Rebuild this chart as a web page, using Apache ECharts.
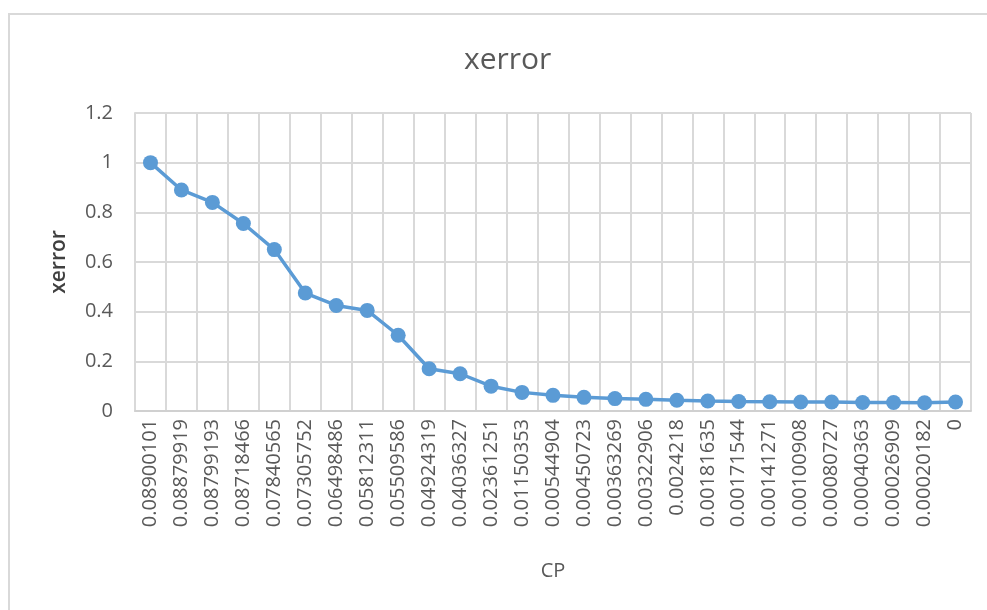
<!DOCTYPE html>
<html>
<head>
<meta charset="utf-8">
<script src="https://cdn.jsdelivr.net/npm/echarts@6/dist/echarts.min.js"></script>
<style>
  html, body { margin: 0; padding: 0; background: #fff; overflow: hidden; }
  #frame { position: absolute; left: 8px; top: 13px; width: 1000px; height: 700px; border: 2px solid #d9d9d9; }
  #chart { position: absolute; left: 0; top: 0; width: 987px; height: 610px; }
</style>
</head>
<body>
<div id="frame"></div>
<div id="chart"></div>
<script>
  var cpLabels = ["0.08900101", "0.08879919", "0.08799193", "0.08718466", "0.07840565", "0.07305752",
    "0.06498486", "0.05812311", "0.05509586", "0.04924319", "0.04036327", "0.02361251", "0.01150353",
    "0.00544904", "0.00450723", "0.00363269", "0.00322906", "0.0024218", "0.00181635", "0.00171544",
    "0.00141271", "0.00100908", "0.00080727", "0.00040363", "0.00026909", "0.00020182", "0"]
  var xerror = [1, 0.89, 0.84, 0.755, 0.65, 0.475, 0.425, 0.405, 0.305, 0.17, 0.15, 0.1, 0.075,
    0.063, 0.055, 0.05, 0.047, 0.043, 0.04, 0.038, 0.037, 0.036, 0.036, 0.034, 0.034, 0.033, 0.036]
  var yTicks = [0, 0.2, 0.4, 0.6, 0.8, 1, 1.2]

  var font = '"Open Sans", "Noto Sans", sans-serif'
  var chart = echarts.init(document.getElementById('chart'))
  var option = {
    animation: false,
    title: {
      text: 'xerror',
      left: 459,
      top: 40,
      textStyle: { color: '#595959', fontSize: 30, fontWeight: 'normal', fontFamily: font }
    },
    grid: { left: 135, right: 16, top: 113, bottom: 199 },
    xAxis: {
      type: 'category',
      data: cpLabels,
      name: 'CP',
      nameLocation: 'middle',
      nameGap: 150,
      nameTextStyle: { color: '#595959', fontSize: 20, fontFamily: font },
      axisTick: { show: false },
      axisLine: { lineStyle: { color: '#d0d0d0', width: 2 } },
      axisLabel: { rotate: 90, interval: 0, margin: 8, color: '#595959', fontSize: 20, fontFamily: font },
      splitLine: { show: true, interval: 0, lineStyle: { color: '#d9d9d9', width: 2 } }
    },
    yAxis: {
      type: 'value',
      min: yTicks[0],
      max: yTicks[yTicks.length - 1],
      interval: 0.2,
      name: 'xerror',
      nameLocation: 'middle',
      nameGap: 65,
      nameRotate: 90,
      nameTextStyle: { color: '#404040', fontSize: 21, fontWeight: 600, fontFamily: font },
      axisLine: { show: true, lineStyle: { color: '#d9d9d9', width: 2 } },
      axisTick: { show: false },
      axisLabel: { margin: 22, color: '#595959', fontSize: 20, fontFamily: font },
      splitLine: { lineStyle: { color: '#d9d9d9', width: 2 } }
    },
    series: [{
      type: 'line',
      data: xerror,
      symbol: 'circle',
      symbolSize: 15,
      lineStyle: { color: '#5b9bd5', width: 3.5 },
      itemStyle: { color: '#5b9bd5' }
    }]
  }
  chart.setOption(option)
</script>
</body>
</html>
